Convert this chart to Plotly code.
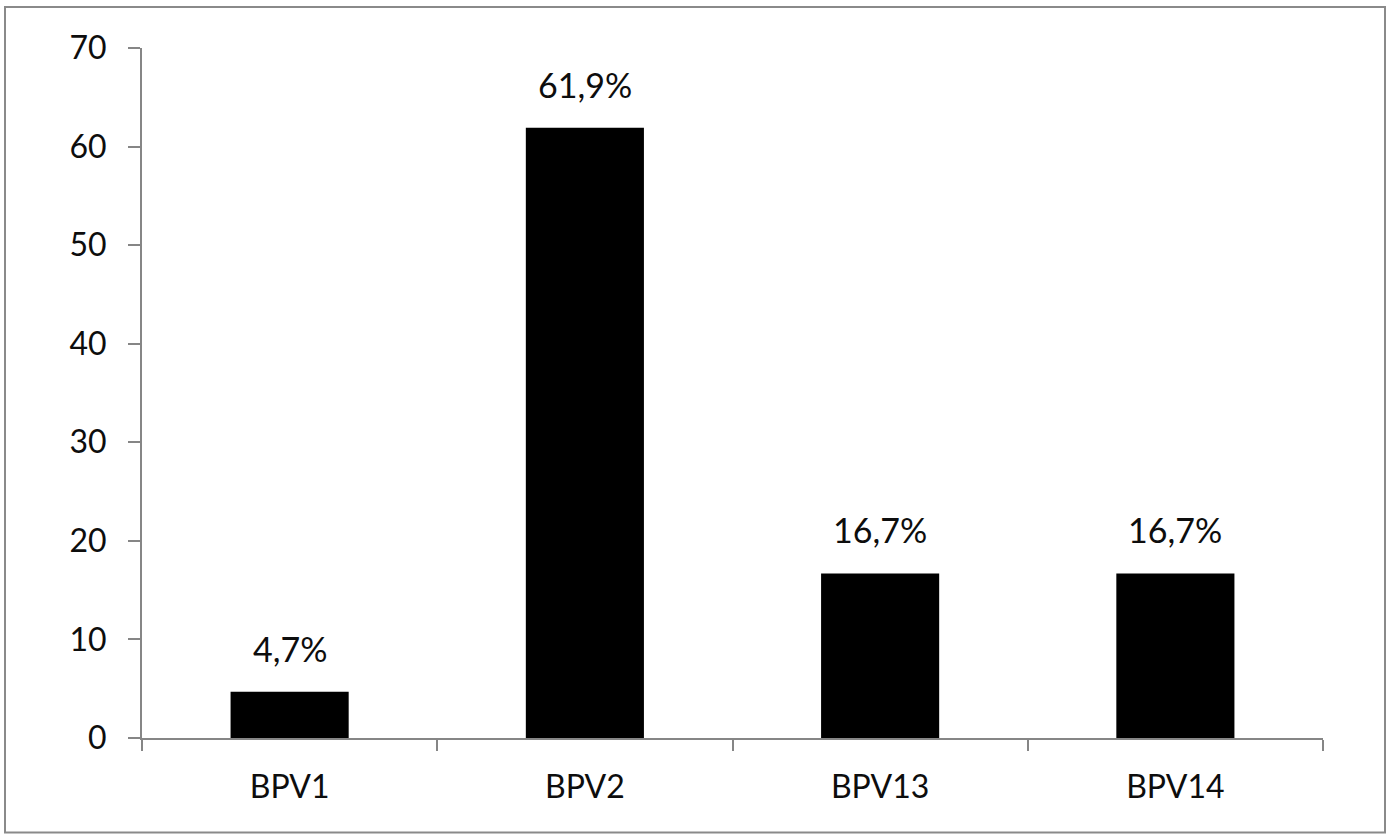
import plotly.graph_objects as go

# Data
categories = ["BPV1", "BPV2", "BPV13", "BPV14"]
values = [4.7, 61.9, 16.7, 16.7]
y_ticks = [0, 10, 20, 30, 40, 50, 60, 70]

labels = [f"{v:.1f}".replace(".", ",") + "%" for v in values]

FONT = "Lato"
AXIS_GREY = "#868686"
TEXT = "#0d0d0d"

fig = go.Figure()
fig.add_trace(go.Bar(
    x=categories,
    y=values,
    width=0.4,
    marker=dict(color="black", line=dict(width=0)),
    hoverinfo="skip",
))

# value labels above each bar
for c, v, t in zip(categories, values, labels):
    fig.add_annotation(
        x=c, y=v, text=t, showarrow=False,
        xanchor="center", yanchor="bottom", yshift=21,
        font=dict(family=FONT, size=34, color=TEXT),
    )

# outer frame around the chart
fig.add_shape(
    type="rect", xref="paper", yref="paper",
    x0=-0.116, x1=1.0525, y0=-0.137, y1=1.0595,
    line=dict(color="#8a8a8a", width=2), fillcolor="rgba(0,0,0,0)",
    layer="below",
)

fig.update_layout(
    width=1390, height=834,
    margin=dict(l=142, r=67, t=48, b=96),
    paper_bgcolor="white", plot_bgcolor="white",
    showlegend=False,
    font=dict(family=FONT, size=32, color=TEXT),
    bargap=0.6,
)
fig.update_xaxes(
    showline=True, linecolor=AXIS_GREY, linewidth=2,
    ticks="outside", tickson="boundaries", ticklen=11, tickwidth=2, tickcolor=AXIS_GREY,
    ticklabelstandoff=20,
    showgrid=False, zeroline=False,
    tickfont=dict(family=FONT, size=32, color=TEXT),
)
fig.update_yaxes(
    range=[0, 70], tickvals=y_ticks,
    showline=True, linecolor=AXIS_GREY, linewidth=2,
    ticks="outside", ticklen=12, tickwidth=2, tickcolor=AXIS_GREY,
    ticklabelstandoff=15,
    showgrid=False, zeroline=False,
    tickfont=dict(family=FONT, size=32, color=TEXT),
)

fig.write_html("out.html")
